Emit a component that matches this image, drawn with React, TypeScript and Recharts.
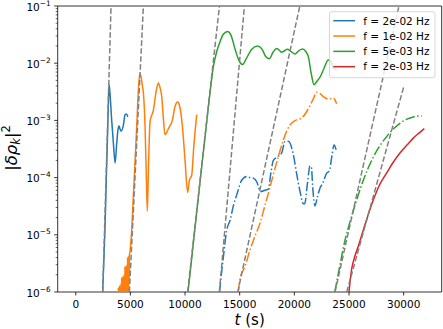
import { Line, LineChart, ReferenceArea, XAxis, YAxis } from "recharts";

const FONT = "DejaVu Sans, Verdana, sans-serif";

const X_DOMAIN = [-1650, 33480];
const Y_DOMAIN = [1e-6, 1e-1];
const X_TICKS = [0, 5000, 10000, 15000, 20000, 25000, 30000];
const Y_MAJOR = [1e-6, 1e-5, 1e-4, 1e-3, 1e-2, 1e-1];
const Y_TICKS = [
  ...Y_MAJOR,
  ...Y_MAJOR.slice(0, -1).flatMap((d) => [2, 3, 4, 5, 6, 7, 8, 9].map((m) => m * d)),
];

const BLUE = "#1f77b4";
const ORANGE = "#ff7f0e";
const GREEN = "#2ca02c";
const RED = "#d62728";
const GRAY = "#808080";

// f = 2e-02 Hz, solid
const BLUE_T = [2460, 2600, 2680, 2800, 2930, 3000, 3050, 3120, 3290, 3445, 3600, 3750, 3870, 3960, 4060, 4150, 4360, 4510, 4650, 4760];
const BLUE_V = [1e-6, 5e-6, 1.4e-5, 1e-4, 7.8e-4, 2.5e-3, 4.2e-3, 3.2e-3, 1e-3, 4e-4, 1.8e-4, 4e-4, 7e-4, 8e-4, 7e-4, 6.5e-4, 8.3e-4, 1.26e-3, 1.3e-3, 1.15e-3];

// f = 1e-02 Hz, solid (noisy start near the floor)
const ORANGE_T = [
  3870, 3900, 3930, 3960, 3990, 4020, 4050, 4080, 4110, 4140, 4170, 4200, 4230, 4260, 4290, 4320, 4350, 4380,
  4410, 4440, 4470, 4500, 4530, 4560, 4590, 4620, 4650, 4680, 4710, 4740, 4770, 4800, 4830, 4860, 4890, 4920,
  4960, 5000, 5120, 5250, 5400, 5520, 5580, 5680, 5780, 5880, 5960, 6100, 6190, 6340, 6460, 6550, 6650, 6800,
  7100, 7400, 7560, 7700, 7870, 8000, 8170, 8300, 8480, 8840, 9100, 9330, 9500, 9760, 10000, 10240, 10400,
  10610, 10800, 11070,
];
const ORANGE_V = [
  3e-7, 1.2e-6, 3e-7, 1.1e-6, 3e-7, 1.3e-6, 3e-7, 1.2e-6, 3e-7, 1.4e-6, 3e-7, 1.8e-6, 3e-7, 1.7e-6, 4e-7, 1.9e-6, 4e-7, 1.8e-6,
  4e-7, 2e-6, 5e-7, 2.8e-6, 5e-7, 2.7e-6, 6e-7, 2.9e-6, 6e-7, 2.6e-6, 7e-7, 4e-6, 8e-7, 4.2e-6, 9e-7, 4.1e-6, 1.5e-6, 4.5e-6,
  5e-6, 6e-6, 1.2e-5, 4e-5, 1.5e-4, 4.6e-4, 7.8e-4, 2.2e-3, 4.8e-3, 6.5e-3, 6e-3, 4e-3, 3e-3, 8e-4, 1e-4, 2.6e-5, 1.4e-4, 9.5e-4,
  1.5e-3, 3.6e-3, 4.5e-3, 3.8e-3, 2.6e-3, 1.2e-3, 5.6e-4, 6e-4, 7.2e-4, 1e-3, 1.8e-3, 2.1e-3, 1.8e-3, 7.8e-4, 2e-4, 5.5e-5, 9e-5,
  1.1e-4, 3.5e-4, 1.26e-3,
];

// f = 5e-03 Hz, solid
const GREEN_T = [10270, 10700, 11070, 11500, 11900, 12200, 12590, 12900, 13140, 13500, 13900, 14200, 14600, 15000, 15270, 15600, 16100, 16620, 17000, 17400, 17710, 18050, 18380, 18600, 18840, 19100, 19360, 19700, 20060, 20400, 20760, 21050, 21280, 21550, 21800, 22050, 22350, 22700, 23110, 23300, 23550, 23870];
const GREEN_V = [1e-6, 5.6e-6, 2.5e-5, 1.4e-4, 6.8e-4, 2.2e-3, 8.7e-3, 1.6e-2, 2.2e-2, 3.2e-2, 3.6e-2, 3.1e-2, 1.7e-2, 1.05e-2, 9.5e-3, 1.2e-2, 1.75e-2, 2e-2, 1.8e-2, 1.3e-2, 1.2e-2, 1.55e-2, 1.8e-2, 1.7e-2, 1.55e-2, 1.65e-2, 1.75e-2, 1.6e-2, 1.45e-2, 1.65e-2, 1.78e-2, 1.6e-2, 1.3e-2, 6.5e-3, 4.2e-3, 4.8e-3, 5.7e-3, 8e-3, 1.14e-2, 1.1e-2, 8.5e-3, 7.6e-3];

// second runs, dash-dot
const BLUE_DD_T = [13150, 13500, 13810, 14120, 14420, 14800, 15180, 15640, 15790, 16250, 16550, 16920, 17300, 17620, 17850, 18080, 18450, 18840, 19150, 19450, 19910, 20200, 20520, 20820, 20950, 21200, 21430, 21550, 21700, 21890, 22100, 22350, 22600, 22960, 23200, 23450, 23630, 23870];
const BLUE_DD_V = [1e-6, 4e-6, 1.2e-5, 1.8e-5, 3.2e-5, 5.5e-5, 9e-5, 1.05e-4, 1.02e-4, 9.8e-5, 8.5e-5, 5.7e-5, 6e-5, 6.3e-5, 1.2e-4, 2e-4, 2.3e-4, 2.7e-4, 4.3e-4, 4.3e-4, 2.5e-4, 1.2e-4, 5.7e-5, 3.5e-5, 3.5e-5, 8e-5, 1.6e-4, 1.55e-4, 6e-5, 3.2e-5, 4.5e-5, 6.6e-5, 8e-5, 1.2e-4, 1.3e-4, 2.5e-4, 3.7e-4, 2.8e-4];

const ORANGE_DD_T = [14880, 15030, 15490, 15950, 16400, 16860, 17300, 17700, 18000, 18500, 19000, 19300, 19600, 20100, 20670, 21280, 21700, 22040, 22300, 22650, 23110, 23570, 23870];
const ORANGE_DD_V = [1e-6, 1.7e-6, 2.8e-6, 5.5e-6, 9.5e-6, 1.6e-5, 3.2e-5, 6e-5, 1e-4, 2.2e-4, 4.6e-4, 6.5e-4, 8.3e-4, 1e-3, 1.1e-3, 1.6e-3, 2.3e-3, 3.1e-3, 3e-3, 2.6e-3, 2.35e-3, 2.45e-3, 1.95e-3];

const GREEN_DD_T = [23700, 24100, 24630, 25100, 25550, 26310, 27230, 28440, 29660, 30300, 30880, 31650];
const GREEN_DD_V = [1e-6, 2.5e-6, 8e-6, 1.7e-5, 3.3e-5, 9e-5, 2.3e-4, 5.2e-4, 8.9e-4, 1.05e-3, 1.15e-3, 1.2e-3];

// f = 2e-03 Hz, solid
const RED_T = [25000, 25240, 25500, 25850, 26460, 27230, 27800, 28440, 29000, 29660, 30300, 30880, 31400, 31890];
const RED_V = [1e-6, 2.5e-6, 4e-6, 6.3e-6, 1.5e-5, 4.1e-5, 7.5e-5, 1.2e-4, 1.8e-4, 2.7e-4, 3.7e-4, 4.9e-4, 6e-4, 7.2e-4];

// exponential growth fits (gray dashed), start/end
const FIT_T0 = [2470, 4910, 10240, 13140, 14820, 23720, 24790];
const FIT_T1 = [3230, 6190, 13150, 15430, 20500, 29570, 30030];
const FIT_V0 = [1e-6, 1e-6, 1e-6, 1e-6, 1e-6, 1e-6, 1e-6];
const FIT_V1 = [1e-1, 1e-1, 1e-1, 1e-1, 1e-1, 1e-1, 4e-3];

const LEGEND = [
  { label: "f = 2e-02 Hz", color: BLUE },
  { label: "f = 1e-02 Hz", color: ORANGE },
  { label: "f = 5e-03 Hz", color: GREEN },
  { label: "f = 2e-03 Hz", color: RED },
];

const zip = (t: number[], v: number[]) => t.map((x, i) => ({ t: x, v: v[i] }));

const SOLID = [
  { key: "blue", color: BLUE, data: zip(BLUE_T, BLUE_V) },
  { key: "orange", color: ORANGE, data: zip(ORANGE_T, ORANGE_V) },
  { key: "green", color: GREEN, data: zip(GREEN_T, GREEN_V) },
  { key: "red", color: RED, data: zip(RED_T, RED_V) },
];
const DASHDOT = [
  { key: "blue-dd", color: BLUE, data: zip(BLUE_DD_T, BLUE_DD_V) },
  { key: "orange-dd", color: ORANGE, data: zip(ORANGE_DD_T, ORANGE_DD_V) },
  { key: "green-dd", color: GREEN, data: zip(GREEN_DD_T, GREEN_DD_V) },
];
const FITS = FIT_T0.map((t0, i) => [
  { t: t0, v: FIT_V0[i] },
  { t: FIT_T1[i], v: FIT_V1[i] },
]);

function YTick({ x, y, payload }: any) {
  const lg = Math.log10(payload.value);
  const e = Math.round(lg);
  if (Math.abs(lg - e) > 1e-6) {
    return <line x1={x - 2} x2={x} y1={y} y2={y} stroke="#000" strokeWidth={0.6} />;
  }
  return (
    <g>
      <line x1={x - 3.5} x2={x} y1={y} y2={y} stroke="#000" strokeWidth={0.8} />
      <text x={x - 7} y={y + 4.5} textAnchor="end" fontSize={10.5} fontFamily={FONT} fill="#000">
        10
        <tspan dy={-5} fontSize={7.4}>
          {"\u2212" + Math.abs(e)}
        </tspan>
      </text>
    </g>
  );
}

function XTick({ x, y, payload }: any) {
  return (
    <g>
      <line x1={x} x2={x} y1={y} y2={y + 3.5} stroke="#000" strokeWidth={0.8} />
      <text x={x} y={y + 16} textAnchor="middle" fontSize={10.5} fontFamily={FONT} fill="#000">
        {payload.value}
      </text>
    </g>
  );
}

function XLabel() {
  return (
    <text x={249.7} y={325} textAnchor="middle" fontSize={15} fontFamily={FONT} fill="#000">
      <tspan fontStyle="italic">t</tspan> (s)
    </text>
  );
}

function YLabel() {
  return (
    <text transform="rotate(-90)" x={-148} y={16.5} textAnchor="middle" fontSize={16.5} fontFamily={FONT} fill="#000">
      |<tspan fontStyle="italic">δρ</tspan>
      <tspan fontStyle="italic" fontSize={11.5} dy={3.5}>k</tspan>
      <tspan dy={-3.5}>|</tspan>
      <tspan fontSize={11.5} dy={-7}>2</tspan>
    </text>
  );
}

function LegendBox() {
  return (
    <svg width={443} height={329} style={{ position: "absolute", left: 0, top: 0, pointerEvents: "none" }}>
      <rect x={329.5} y={11.7} width={105.5} height={66} rx={2.5} fill="rgba(255,255,255,0.8)" stroke="#cccccc" strokeWidth={0.8} />
      {LEGEND.map((d, i) => {
        const cy = 20.7 + i * 15.33;
        return (
          <g key={d.label}>
            <line x1={333.3} x2={355} y1={cy} y2={cy} stroke={d.color} strokeWidth={1.5} />
            <text x={363.3} y={cy + 3.8} fontSize={10.5} fontFamily={FONT} fill="#000">
              {d.label}
            </text>
          </g>
        );
      })}
    </svg>
  );
}

export default function App() {
  return (
    <div style={{ position: "absolute", left: 0, top: 0, width: 443, height: 329, background: "#fff" }}>
      <LineChart width={443} height={329} margin={{ top: 6, right: 1.3, bottom: 0, left: 0 }}>
        <XAxis
          dataKey="t"
          type="number"
          domain={X_DOMAIN}
          allowDataOverflow
          ticks={X_TICKS}
          interval={0}
          height={37}
          axisLine={false}
          tickLine={false}
          tickSize={0}
          tickMargin={0}
          tick={<XTick />}
          label={<XLabel />}
        />
        <YAxis
          dataKey="v"
          type="number"
          scale="log"
          domain={Y_DOMAIN}
          allowDataOverflow
          ticks={Y_TICKS}
          interval={0}
          width={57.7}
          axisLine={false}
          tickLine={false}
          tickSize={0}
          tickMargin={0}
          tick={<YTick />}
          label={<YLabel />}
        />
        {SOLID.map((s) => (
          <Line
            key={s.key}
            data={s.data}
            dataKey="v"
            type="monotone"
            stroke={s.color}
            strokeWidth={1.5}
            dot={false}
            isAnimationActive={false}
          />
        ))}
        {DASHDOT.map((s) => (
          <Line
            key={s.key}
            data={s.data}
            dataKey="v"
            type="monotone"
            stroke={s.color}
            strokeWidth={1.5}
            strokeDasharray="9.6 2.4 1.5 2.4"
            dot={false}
            isAnimationActive={false}
          />
        ))}
        {FITS.map((d, i) => (
          <Line
            key={"fit" + i}
            data={d}
            dataKey="v"
            type="linear"
            stroke={GRAY}
            strokeWidth={1.5}
            strokeDasharray="5.55 2.4"
            dot={false}
            isAnimationActive={false}
          />
        ))}
        <ReferenceArea
          x1={X_DOMAIN[0]}
          x2={X_DOMAIN[1]}
          y1={Y_DOMAIN[0]}
          y2={Y_DOMAIN[1]}
          fill="none"
          stroke="#000"
          strokeWidth={0.8}
          ifOverflow="visible"
        />
      </LineChart>
      <LegendBox />
    </div>
  );
}
